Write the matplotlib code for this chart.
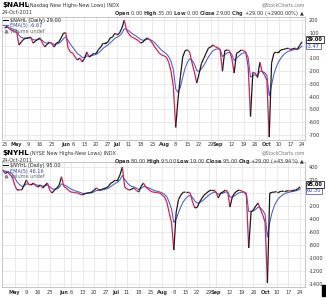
import numpy as np
import pandas as pd
import matplotlib
matplotlib.use("Agg")
from matplotlib import pyplot as plt
from matplotlib.collections import LineCollection
from matplotlib.lines import Line2D
from matplotlib.patches import Rectangle
import matplotlib.transforms as mtransforms

# trading days shown on both panels
holidays = ["2011-05-30", "2011-07-04", "2011-09-05"]
dates = pd.bdate_range("2011-04-25", "2011-10-24").drop(pd.to_datetime(holidays))

# $NAHL daily close (Nasdaq new highs - new lows)
nahl = [140, 150, 130, 120, 110, 105, 5, 30, 50, 58,
        60, 67, 20, 35, 50, 60, 20, -10, 10, 28,
        15, -11, 20, 28, 60, 98, 100, -20, -50, -60,
        -90, -113, -97, -128, -100, -50, -90, -73, -60, -60,
        -30, -10, 20, 20, 28, 60, 67, 98, 83, 100,
        137, 200, 120, 90, 70, 60, 50, 40, 20, 28,
        50, 60, 44, 20, -10, -34, -60, -73, -80, -90,
        -130, -200, -320, -640, -420, -243, -90, -40, -34, -50,
        -137, -206, -293, -220, -140, -100, -60, -20, -10, 5,
        -10, -15, -34, -200, -40, -34, -40, -100, -215, -60,
        -50, -34, -40, -50, -167, -555, -210, -215, -250, -130,
        -205, -230, -270, -716, -137, -60, -50, -50, -34, -30,
        -25, -20, -30, -25, -20, -30, 1, 29]

# $NYHL daily close (NYSE new highs - new lows)
nyhl = [350, 300, 320, 280, 250, 120, 46, 50, 46, 120,
        200, 130, 123, 154, 110, 92, 123, 77, 120, 154,
        40, 0, 46, 77, 123, 250, 100, 77, 40, 15,
        10, 5, 0, -20, -31, -10, 0, 5, 15, 50,
        77, 46, 50, 70, 77, 100, 150, 170, 200, 200,
        280, 400, 92, 60, 46, 60, 77, 40, 15, 100,
        154, 92, 60, 30, 15, 10, 5, 0, -31, -60,
        -138, -300, -450, -877, -300, -100, -31, 10, 15, 15,
        0, -138, -230, -220, -138, -80, -31, 0, 30, 46,
        46, 15, -77, 0, 15, 46, 20, -215, -60, 0,
        30, 46, 30, 15, -31, -846, -290, -260, -200, -154,
        -250, -340, -446, -1385, 0, 10, 15, 20, 20, 25,
        30, 30, 35, 30, 40, 45, 66, 95]

nahl_ticks = [200, 100, 0, -100, -200, -300, -400, -500, -600, -700]
nyhl_ticks = [400, 200, 0, -200, -400, -600, -800, -1000, -1200, -1400]

W, H = 326, 300
fig = plt.figure(figsize=(W / 100, H / 100), dpi=100)
fs = 3.6
txt = "#333333"


def add_ax(left, top, right, bottom):
    return fig.add_axes([left / W, 1 - bottom / H, (right - left) / W, (bottom - top) / H])


def ftext(x, y, s, **kw):
    fig.text(x / W, 1 - y / H, s, va="center", **kw)


def panel(ax, vals, xlim, ylim, yticks, name, ema_label, first_label=True):
    x = np.arange(len(vals))
    v = np.array(vals, dtype=float)
    ema = pd.Series(v).ewm(span=5, adjust=False).mean().values

    ax.plot(x, ema, color="#4a5bc4", lw=0.75, zorder=3)
    segs = np.stack([np.column_stack([x[:-1], v[:-1]]), np.column_stack([x[1:], v[1:]])], axis=1)
    cols = np.where(v[1:] >= v[:-1], "#1a1a1a", "#cc2255")
    ax.add_collection(LineCollection(segs, colors=cols, lw=0.9, zorder=4))

    ax.set_xlim(*xlim)
    ax.set_ylim(*ylim)

    pos, labs, bold = [], [], []
    for i, d in enumerate(dates):
        if i > 0 and d.month != dates[i - 1].month:
            pos.append(i); labs.append(d.strftime("%b")); bold.append(True)
        elif d.weekday() == 0:
            if i == 0 and not first_label:
                continue
            pos.append(i); labs.append(str(d.day)); bold.append(False)
    ax.set_xticks(pos)
    ax.set_xticklabels(labs)
    for t, b in zip(ax.get_xticklabels(), bold):
        if b:
            t.set_fontweight("bold")
            t.set_color("black")

    # the 0 label sits under the value boxes
    ax.set_yticks(yticks)
    ax.set_yticklabels(["" if t == 0 else str(t) for t in yticks])
    ax.yaxis.tick_right()
    ax.tick_params(axis="both", length=0, labelsize=fs, colors=txt)
    ax.tick_params(axis="x", pad=2)
    ax.tick_params(axis="y", pad=3)
    ax.grid(True, color="#e2e2e2", lw=0.5)
    ax.set_axisbelow(True)
    for sp in ax.spines.values():
        sp.set_color("#b0b0b0")
        sp.set_linewidth(0.5)

    handles = [Line2D([], [], color="#1a1a1a", lw=0.8),
               Line2D([], [], color="#4a5bc4", lw=0.8),
               Line2D([], [], color="#888888", lw=0, marker="^", markersize=2)]
    leg = ax.legend(handles, [name, ema_label, "Volume undef"], loc="upper left",
                    frameon=False, fontsize=fs, handlelength=1.0, handletextpad=0.3,
                    labelspacing=0.1, borderaxespad=0.1, borderpad=0.1)
    for t, c in zip(leg.get_texts(), ["#1a1a1a", "#3344aa", "#666666"]):
        t.set_color(c)

    trans = mtransforms.blended_transform_factory(ax.transAxes, ax.transData)
    ax.annotate(f"{v[-1]:.2f}", xy=(1.0, v[-1]), xycoords=trans, xytext=(1.5, 1.8),
                textcoords="offset points", fontsize=fs, fontweight="bold", va="center",
                ha="left", annotation_clip=False, zorder=6,
                bbox=dict(boxstyle="square,pad=0.15", fc="white", ec="black", lw=0.5))
    ax.annotate(f"{ema[-1]:.2f}", xy=(1.0, v[-1]), xycoords=trans, xytext=(1.5, -3.0),
                textcoords="offset points", fontsize=fs, color="#3344aa", va="center",
                ha="left", annotation_clip=False, zorder=5,
                bbox=dict(boxstyle="square,pad=0.15", fc="white", ec="#3344aa", lw=0.5))


# top panel: $NAHL
ax1 = add_ax(2, 16.5, 305, 139.5)
panel(ax1, nahl, (-1.28, 128.3), (-735, 228), nahl_ticks,
      r"\$NAHL (Daily) 29.00", "EMA(5) -6.67")
ftext(2, 5, r"\$NAHL", fontsize=5.2, fontweight="bold")
ftext(28, 5.3, "(Nasdaq New Highs-New Lows) INDX", fontsize=fs, color=txt)
ftext(2, 12, "24-Oct-2011", fontsize=fs, color=txt)
ftext(305, 5, "@StockCharts.com", fontsize=fs - 0.3, color="#777777", ha="right")
ftext(305, 13, r"$\mathbf{Open}$ 0.00 $\mathbf{High}$ 35.00 $\mathbf{Low}$ 0.00 "
      r"$\mathbf{Close}$ 29.00 $\mathbf{Chg}$ +29.00 (+2900.00%) ▲",
      fontsize=fs, color=txt, ha="right")

# bottom panel: $NYHL
ax2 = add_ax(2, 162, 305, 287)
panel(ax2, nyhl, (-0.43, 129.06), (-1446, 477), nyhl_ticks,
      r"\$NYHL (Daily) 95.00", "EMA(5) 46.16", first_label=False)
ftext(2, 153, r"\$NYHL", fontsize=5.2, fontweight="bold")
ftext(30, 153.3, "(NYSE New Highs-New Lows) INDX", fontsize=fs, color=txt)
ftext(2, 160, "24-Oct-2011", fontsize=fs, color=txt)
ftext(305, 153, "@StockCharts.com", fontsize=fs - 0.3, color="#777777", ha="right")
ftext(305, 161, r"$\mathbf{Open}$ 80.00 $\mathbf{High}$ 95.00 $\mathbf{Low}$ 19.00 "
      r"$\mathbf{Close}$ 95.00 $\mathbf{Chg}$ +29.00 (+43.94%) ▲",
      fontsize=fs, color=txt, ha="right")

fig.add_artist(Rectangle((322 / W, 1 - 296 / H), 4 / W, 11 / H, color="black",
                         transform=fig.transFigure))

fig.savefig("out.png", dpi=100)
